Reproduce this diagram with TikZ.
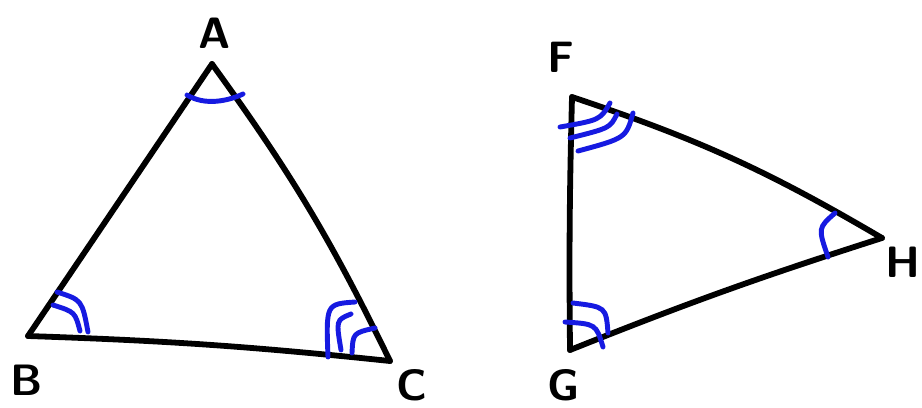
\documentclass[tikz,border=0pt]{standalone}
\begin{document}
\begin{tikzpicture}[x=0.02cm,y=-0.02cm,
  side/.style={line width=3.3pt,line cap=round,line join=round,black},
  anglemark/.style={line width=2.8pt,line cap=round,draw=blueink},
  lbl/.style={font=\sffamily\bfseries\fontsize{25}{28}\selectfont,inner sep=1pt}]
\definecolor{blueink}{RGB}{22,26,225}
\useasboundingbox[fill=white] (0,0) rectangle (922,407);
% vertices
\coordinate (A) at (212,64);
\coordinate (B) at (28,336);
\coordinate (C) at (390,361);
\coordinate (F) at (572,97);
\coordinate (G) at (570,350);
\coordinate (H) at (882,238);
% sides
\draw[side] (A) -- (B);
\draw[side] (A) to[bend left=5] (C);
\draw[side] (B) to[bend left=2] (C);
\draw[side] (F) to[bend right=1] (G);
\draw[side] (F) to[bend left=6] (H);
\draw[side] (G) to[bend left=2] (H);
% angle marks
\draw[anglemark] (187,95) .. controls (205,106) and (228,101) .. (243,94);
\draw[anglemark] (57,292) .. controls (82,300) .. (88,332);
\draw[anglemark] (53,305) .. controls (75,312) .. (80,331);
\draw[anglemark] (355,302) .. controls (326,304) .. (328,357);
\draw[anglemark] (351,314) .. controls (336,320) .. (341,350);
\draw[anglemark] (375,328) .. controls (353,333) .. (352,353);
\draw[anglemark] (560,127) .. controls (600,120) .. (610,103);
\draw[anglemark] (570,138) .. controls (610,128) .. (617,114);
\draw[anglemark] (578,151) .. controls (626,138) .. (633,113);
\draw[anglemark] (835,213) .. controls (818,228) .. (828,257);
\draw[anglemark] (573,303) .. controls (606,307) .. (608,333);
\draw[anglemark] (565,322) .. controls (596,324) .. (603,347);
% labels
\node[lbl] (lA) at (215,33) {A};
\node[lbl] (lB) at (27,380) {B};
\node[lbl] (lC) at (412,385) {C};
\node[lbl] (lF) at (561,57) {F};
\node[lbl] (lG) at (564,385) {G};
\node[lbl] (lH) at (903,262) {H};
\end{tikzpicture}
\end{document}
